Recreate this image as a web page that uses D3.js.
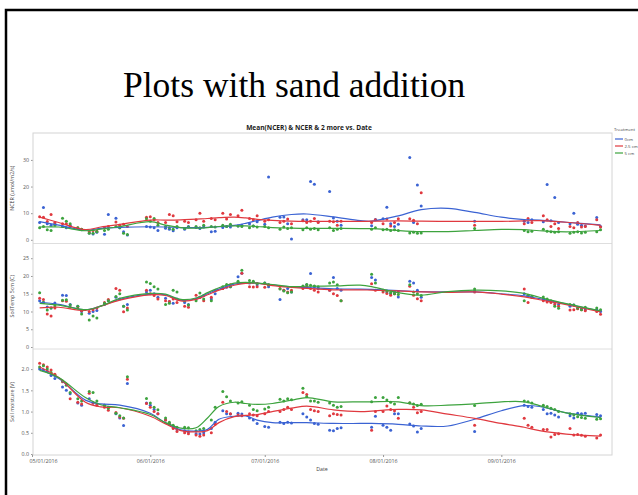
<!DOCTYPE html>
<html>
<head>
<meta charset="utf-8">
<script src="https://cdn.jsdelivr.net/npm/d3@7"></script>
<style>
body { margin: 0; background: #fff; }
svg { display: block; }
</style>
</head>
<body>
<div id="chart"></div>
<script>
// measurement days (daily means per treatment)
var dates = ["2016-05-03","2016-05-04","2016-05-05","2016-05-06","2016-05-07","2016-05-09","2016-05-10","2016-05-11","2016-05-13","2016-05-14",
  "2016-05-16","2016-05-17","2016-05-18","2016-05-20","2016-05-21","2016-05-23","2016-05-24","2016-05-25","2016-05-26",
  "2016-05-31","2016-06-01","2016-06-02","2016-06-03","2016-06-05","2016-06-06","2016-06-07","2016-06-08","2016-06-10","2016-06-11",
  "2016-06-13","2016-06-14","2016-06-15","2016-06-17","2016-06-18","2016-06-20","2016-06-21","2016-06-22","2016-06-24","2016-06-25",
  "2016-06-27","2016-06-28","2016-06-29","2016-07-01","2016-07-02","2016-07-05","2016-07-06","2016-07-07","2016-07-08","2016-07-11",
  "2016-07-12","2016-07-13","2016-07-14","2016-07-15","2016-07-18","2016-07-19","2016-07-20","2016-07-21",
  "2016-07-29","2016-07-30","2016-08-01","2016-08-02","2016-08-03","2016-08-04","2016-08-05","2016-08-08","2016-08-09","2016-08-10","2016-08-11",
  "2016-08-25",
  "2016-09-07","2016-09-08","2016-09-09","2016-09-12","2016-09-13","2016-09-14","2016-09-15","2016-09-16","2016-09-19","2016-09-20",
  "2016-09-21","2016-09-22","2016-09-23","2016-09-26","2016-09-27"];

var treatments = ["0cm", "2.5 cm", "5 cm"];

// NCER (umol/m2/s)
var ncer0 = [6.5,12.1,6.0,5.5,6.0,5.0,4.5,5.5,4.2,3.8, 2.6,2.2,2.8,2.1,9.5,8.1,4.5,3.0,1.8,
  5.0,4.8,4.5,3.5,4.3,4.0,3.4,4.5,4.0,5.0, 4.6,4.2,4.8,3.0,3.2,4.6,5.0,4.8,5.2,5.5,
  6.0,5.2,6.8,5.8,23.6,8.5,8.6,6.0,0.3,7.5, 7.5,21.9,20.9,6.8,18.1,8.2,7.0,5.5,
  5.3,7.6,7.9,12.2,6.0,5.0,5.8,30.9,6.5,20.6,12.7, 7.0,
  7.0,6.5,7.5,6.8,20.8,7.2,15.9,6.5,6.0,10.0, 5.8,5.5,5.2,8.4,5.0];
var ncer25 = [8.7,8.5,6.9,9.5,6.5,6.0,6.0,5.0,4.5,4.0, 3.0,3.5,3.2,4.5,5.0,6.7,5.5,5.8,5.0,
  8.5,8.7,7.5,6.5,6.5,9.5,9.0,6.8,7.0,6.5, 7.5,10.0,7.0,8.0,7.5,10.0,7.8,9.5,9.0,11.1,
  8.0,7.5,9.0,7.0,7.5,6.5,7.0,7.8,6.0,7.2, 6.5,7.0,8.0,6.5,7.0,6.8,5.5,7.0,
  6.5,7.5,6.0,7.8,5.2,6.5,7.9,7.9,7.3,6.0,17.7, 5.5,
  6.0,8.0,6.5,9.0,7.5,5.0,6.0,4.2,5.0,4.5, 6.5,4.8,5.0,7.5,4.8];
var ncer5 = [4.5,5.0,3.8,3.5,5.5,8.1,7.0,6.0,4.5,4.0, 2.5,2.5,3.0,3.5,4.0,5.0,4.5,2.5,2.0,
  7.9,7.0,8.0,5.5,5.0,4.5,4.0,5.0,4.2,4.8, 5.0,4.5,5.5,5.0,4.8,5.5,5.0,5.8,5.2,5.0,
  4.5,5.2,4.8,5.0,4.5,4.0,4.8,4.2,4.5,3.8, 4.5,4.0,4.2,3.8,4.5,3.5,4.0,4.2,
  4.0,4.5,3.8,4.0,3.5,3.8,3.5,2.6,2.8,2.5,2.6, 4.2,
  3.5,3.0,3.2,4.0,3.2,3.0,2.8,3.0,2.5,2.8, 3.0,2.6,2.8,3.0,3.8];

// soil temperature 5cm (C)
var temp0 = [13.0,12.6,11.3,11.0,12.4,14.6,14.5,12.0,11.5,10.0, 9.5,10.0,10.3,12.0,13.0,14.0,13.5,11.5,12.0,
  15.5,16.0,15.0,14.0,13.7,12.8,12.3,13.5,12.5,12.0, 13.5,14.0,14.5,13.5,15.0,16.5,16.8,17.0,19.8,20.8,
  18.0,18.2,17.5,18.0,17.0,13.4,16.0,16.5,15.5,17.0, 17.5,20.7,17.0,16.5,16.0,19.6,16.5,16.0,
  19.6,18.9,16.0,15.5,15.0,15.5,14.1,18.5,18.0,16.0,14.0, 15.8,
  15.0,14.5,14.0,13.5,13.0,12.8,12.5,12.0,11.5,11.8, 11.0,10.8,10.5,10.5,10.0];
var temp25 = [13.7,13.4,9.3,8.7,11.0,13.0,12.9,11.2,11.0,10.2, 10.0,10.5,11.0,12.5,13.4,16.5,16.0,9.9,11.0,
  16.0,15.0,14.5,13.5,13.0,12.8,13.5,12.5,11.5,11.2, 14.6,14.0,13.0,14.0,16.0,16.5,17.0,17.5,18.0,20.8,
  17.0,16.9,17.0,16.8,17.5,16.5,16.0,15.5,16.0,16.5, 17.0,16.5,16.0,15.5,16.0,15.0,14.5,13.0,
  17.8,16.0,15.5,15.1,14.6,15.0,15.5,17.1,14.6,13.6,13.0, 15.5,
  16.3,12.5,14.0,13.0,12.7,12.5,12.0,11.5,10.4,10.5, 10.8,10.5,10.2,10.0,9.2];
var temp5 = [15.3,12.5,10.4,11.0,11.6,13.2,13.3,11.8,11.5,9.3, 7.6,8.7,8.2,12.3,13.0,14.2,15.0,11.5,10.4,
  18.3,17.9,17.0,16.3,12.0,12.3,16.0,15.5,13.0,11.8, 13.0,15.2,13.5,13.0,16.0,17.0,17.6,17.0,18.5,21.6,
  18.7,18.5,17.9,18.0,17.5,16.3,15.8,15.3,15.5,17.2, 17.6,17.4,17.2,17.0,18.0,18.3,17.5,13.0,
  20.5,18.0,16.0,15.8,15.3,15.0,14.8,17.5,15.5,15.0,14.5, 16.3,
  13.0,14.6,14.3,14.1,13.5,13.0,11.5,10.9,12.0,11.8, 11.0,10.5,11.2,11.0,10.5];

// soil moisture (V)
var moist0 = [2.00,1.98,1.95,1.85,1.78,1.58,1.50,1.42,1.20,1.15, 1.30,1.20,1.18,1.15,1.10,0.95,0.85,0.67,1.66,
  1.20,1.15,1.05,0.95,0.80,0.72,0.65,0.58,0.55,0.52, 0.48,0.47,0.50,0.60,0.75,1.02,0.95,0.94,0.96,0.94,
  0.85,0.80,0.72,0.65,0.63,0.75,0.72,0.75,0.73,0.95, 0.87,0.80,0.72,0.70,0.56,0.55,0.60,0.62,
  0.63,0.89,0.68,0.63,0.56,0.95,0.95,0.71,0.66,0.52,0.60, 0.53,
  1.15,1.12,1.10,1.05,0.95,0.96,0.92,0.87,0.90,0.85, 0.96,0.95,0.96,0.93,0.90];
var moist25 = [2.14,2.10,2.05,1.98,1.88,1.70,1.65,1.30,1.22,1.18, 1.43,1.20,1.15,1.10,1.03,0.98,0.87,0.84,1.76,
  1.19,1.10,1.00,0.95,0.80,0.70,0.60,0.53,0.50,0.48, 0.45,0.42,0.45,0.50,0.70,1.22,1.00,0.95,0.92,0.90,
  0.95,0.92,0.90,0.95,1.00,1.00,1.05,1.10,1.05,1.45, 1.40,1.05,1.02,1.00,0.90,0.95,0.93,0.92,
  0.56,1.00,1.00,1.13,1.05,1.02,0.84,1.20,1.10,0.97,1.00, 0.68,
  0.84,0.68,0.63,0.58,0.58,0.40,0.46,0.48,0.60,0.45, 0.46,0.44,0.42,0.38,0.45];
var moist5 = [2.05,2.08,2.00,1.92,1.85,1.72,1.62,1.45,1.30,1.25, 1.47,1.45,1.25,1.15,1.08,0.96,0.90,0.85,1.82,
  1.31,1.20,1.10,1.04,0.85,0.75,0.68,0.63,0.63,0.62, 0.55,0.58,0.60,0.80,1.10,1.47,1.35,1.25,1.20,1.23,
  1.15,1.05,1.02,1.06,1.10,1.29,1.25,1.30,1.28,1.55, 1.35,1.25,1.25,1.22,1.20,1.15,1.10,1.12,
  1.23,1.33,1.33,1.27,1.22,1.18,1.33,1.21,1.18,1.14,1.17, 1.14,
  1.25,1.23,1.20,1.15,1.12,1.08,1.05,1.00,0.95,0.92, 0.88,0.86,0.84,0.82,0.83];

// smoother curves
var fitDates = ["2016-05-03","2016-05-08","2016-05-15","2016-05-19","2016-05-24","2016-06-01","2016-06-05","2016-06-09","2016-06-13","2016-06-16",
  "2016-06-19","2016-06-23","2016-06-26","2016-06-29","2016-07-03","2016-07-08","2016-07-12","2016-07-19","2016-07-26","2016-07-29",
  "2016-08-05","2016-08-11","2016-08-18","2016-08-25","2016-09-01","2016-09-07","2016-09-11","2016-09-18","2016-09-27"];
var ncerFit0 = [6.8,5.5,3.6,4.3,4.7,4.9,4.8,4.6,4.6,4.7,4.9,5.4,6.2,7.2,8.5,9.5,9.7,8.6,7.2,7.0,9.0,11.3,11.8,10.3,8.5,7.6,7.4,6.6,5.6];
var ncerFit25 = [8.5,6.5,3.8,4.8,5.8,7.4,7.4,7.5,7.8,8.0,8.3,8.5,8.2,7.7,7.3,7.0,6.9,6.9,6.9,7.0,7.1,7.0,6.9,6.9,6.9,7.1,7.2,6.6,5.4];
var ncerFit5 = [4.8,4.8,3.4,4.0,5.0,6.8,5.5,4.6,4.4,4.6,5.0,5.2,5.2,5.0,4.6,4.4,4.3,4.3,4.2,4.2,3.5,3.1,3.1,3.5,3.9,3.8,3.4,3.0,3.5];
var tempFit0 = [12.6,12.0,10.5,11.5,13.4,14.9,14.7,13.2,13.6,15.0,16.3,17.7,18.0,18.0,17.5,16.9,16.7,16.4,16.3,16.2,15.9,15.6,15.5,15.5,15.0,14.4,13.6,12.1,10.1];
var tempFit25 = [11.0,11.2,10.3,11.5,13.2,14.7,14.5,13.0,13.4,14.7,16.0,17.4,17.9,18.0,17.3,16.8,16.5,16.1,16.1,16.0,15.8,15.5,15.4,15.5,14.9,14.1,13.3,11.9,9.9];
var tempFit5 = [12.3,11.8,10.5,11.5,13.7,15.1,14.9,13.4,13.8,15.3,16.7,18.0,18.2,18.0,17.6,17.0,17.1,17.2,17.4,17.0,15.3,14.6,15.6,16.0,15.8,15.1,14.0,12.2,10.2];
var moistFit0 = [2.00,1.78,1.27,1.18,1.15,0.96,0.73,0.57,0.54,0.58,0.82,0.89,0.90,0.80,0.74,0.74,0.74,0.72,0.72,0.72,0.70,0.66,0.66,0.82,1.02,1.14,1.12,0.97,0.87];
var moistFit25 = [2.05,1.80,1.22,1.11,1.09,0.89,0.71,0.55,0.52,0.55,0.74,0.88,0.91,0.93,1.00,1.08,1.13,1.04,1.00,1.01,1.05,1.04,0.94,0.84,0.72,0.63,0.55,0.47,0.42];
var moistFit5 = [1.97,1.80,1.33,1.16,1.09,0.93,0.74,0.61,0.62,0.85,1.12,1.22,1.19,1.17,1.19,1.27,1.33,1.23,1.23,1.23,1.23,1.14,1.15,1.18,1.23,1.23,1.14,0.97,0.86];

var monthTicks = ["2016-05-01","2016-06-01","2016-07-01","2016-08-01","2016-09-01"];
var colors = ["#3b63d3", "#e0393f", "#3da33e"];

var parse = d3.timeParse("%Y-%m-%d");

var W = 638, H = 495;
var frame = {left: 33, right: 612, top: 133, bottom: 455};

var svg = d3.select("#chart").append("svg")
  .attr("width", W)
  .attr("height", H);

// slide border and title
svg.append("rect")
  .attr("x", 6).attr("y", 10)
  .attr("width", 700).attr("height", 600)
  .attr("fill", "none").attr("stroke", "#000").attr("stroke-width", 2.5);

svg.append("text")
  .attr("x", 123).attr("y", 97)
  .style("font-family", "'Liberation Serif', 'Times New Roman', serif")
  .style("font-size", "35.5px")
  .attr("fill", "#000")
  .text("Plots with sand addition");

svg.append("text")
  .attr("x", 309).attr("y", 130)
  .attr("text-anchor", "middle")
  .style("font-family", "'Open Sans', sans-serif")
  .style("font-size", "6.6px").style("font-weight", "bold")
  .attr("fill", "#222")
  .text("Mean(NCER) & NCER & 2 more vs. Date");

var x = d3.scaleTime()
  .domain([parse("2016-05-01"), parse("2016-09-30")])
  .range([32, frame.right]);

var panels = [
  {label: "NCER (umol/m2/s)", top: 133, bottom: 243.5, domain: [-1.2, 40], range: [243, 133.3],
   ticks: [0, 10, 20, 30], fmt: d3.format("d"), series: [ncer0, ncer25, ncer5], fits: [ncerFit0, ncerFit25, ncerFit5]},
  {label: "SoilTemp 5cm (C)", top: 243.5, bottom: 349, domain: [-0.5, 29], range: [348.8, 244],
   ticks: [0, 5, 10, 15, 20, 25], fmt: d3.format("d"), series: [temp0, temp25, temp5], fits: [tempFit0, tempFit25, tempFit5]},
  {label: "Soil moisture (V)", top: 349, bottom: 455, domain: [-0.03, 2.45], range: [455.3, 350],
   ticks: [0, 0.5, 1, 1.5, 2], fmt: d3.format(".1f"), series: [moist0, moist25, moist5], fits: [moistFit0, moistFit25, moistFit5]}
];

var parsedDates = dates.map(parse);
var parsedFit = fitDates.map(parse);

panels.forEach(function(p, pi) {
  var y = d3.scaleLinear().domain(p.domain).range(p.range);
  var g = svg.append("g").attr("class", "panel");

  var clipId = "clip" + pi;
  svg.append("clipPath").attr("id", clipId)
    .append("rect")
    .attr("x", frame.left).attr("y", p.top)
    .attr("width", frame.right - frame.left).attr("height", p.bottom - p.top);

  // panel separator
  if (pi > 0) {
    g.append("line")
      .attr("x1", frame.left).attr("x2", frame.right)
      .attr("y1", p.top).attr("y2", p.top)
      .attr("stroke", "#dedede").attr("stroke-width", 1);
  }

  var yAxis = d3.axisLeft(y).tickValues(p.ticks).tickFormat(p.fmt).tickSize(2).tickPadding(2);
  var ag = g.append("g")
    .attr("transform", "translate(" + frame.left + ",0)")
    .call(yAxis);
  ag.select(".domain").remove();
  ag.selectAll("line").attr("stroke", "#999");
  ag.selectAll("text")
    .attr("fill", "#555")
    .style("font-family", "'Open Sans', sans-serif")
    .style("font-size", "5.3px");

  g.append("text")
    .attr("transform", "translate(14," + ((p.top + p.bottom) / 2) + ") rotate(-90)")
    .attr("text-anchor", "middle")
    .style("font-family", "'Open Sans', sans-serif")
    .style("font-size", "5.3px")
    .attr("fill", "#444")
    .text(p.label);

  var plot = g.append("g").attr("clip-path", "url(#" + clipId + ")");

  p.series.forEach(function(vals, si) {
    var pts = vals.map(function(v, i) { return {d: parsedDates[i], v: v}; })
      .filter(function(o) { return o.v != null; });
    plot.selectAll(".pt" + si)
      .data(pts)
      .enter().append("circle")
      .attr("class", "pt" + si)
      .attr("cx", function(o) { return x(o.d); })
      .attr("cy", function(o) { return y(o.v); })
      .attr("r", 1.5)
      .attr("fill", colors[si]);
  });

  var line = d3.line()
    .x(function(o) { return x(o.d); })
    .y(function(o) { return y(o.v); })
    .curve(d3.curveCatmullRom.alpha(0.5));

  p.fits.forEach(function(vals, si) {
    var pts = vals.map(function(v, i) { return {d: parsedFit[i], v: v}; });
    plot.append("path")
      .datum(pts)
      .attr("d", line)
      .attr("fill", "none")
      .attr("stroke", colors[si])
      .attr("stroke-width", 1.2);
  });
});

// outer plot frame
svg.append("rect")
  .attr("x", frame.left).attr("y", frame.top)
  .attr("width", frame.right - frame.left).attr("height", frame.bottom - frame.top)
  .attr("fill", "none").attr("stroke", "#d4d4d4").attr("stroke-width", 1);

// date axis
var xAxis = d3.axisBottom(x)
  .tickValues(monthTicks.map(parse))
  .tickFormat(d3.timeFormat("%m/%d/%Y"))
  .tickSize(2).tickPadding(2);
var xg = svg.append("g")
  .attr("transform", "translate(0," + frame.bottom + ")")
  .call(xAxis);
xg.select(".domain").remove();
xg.selectAll("line").attr("stroke", "#999");
xg.selectAll("text")
  .attr("fill", "#555")
  .style("font-family", "'Open Sans', sans-serif")
  .style("font-size", "5.3px");
xg.select(".tick text").attr("dx", 11);

svg.append("text")
  .attr("x", 322).attr("y", 471)
  .attr("text-anchor", "middle")
  .style("font-family", "'Open Sans', sans-serif")
  .style("font-size", "5.3px")
  .attr("fill", "#444")
  .text("Date");

// legend, squeezed into the strip right of the frame
var lg = svg.append("g").attr("transform", "translate(614,131)");
lg.append("text")
  .attr("x", 0).attr("y", 0)
  .style("font-family", "'Open Sans', sans-serif")
  .style("font-size", "4.3px")
  .attr("fill", "#444")
  .text("Treatment");
treatments.forEach(function(t, i) {
  var yy = 8 + i * 7;
  lg.append("line")
    .attr("x1", 1).attr("x2", 9)
    .attr("y1", yy).attr("y2", yy)
    .attr("stroke", colors[i]).attr("stroke-width", 1.2);
  lg.append("text")
    .attr("x", 10.5).attr("y", yy + 1.6)
    .style("font-family", "'Open Sans', sans-serif")
    .style("font-size", "4.3px")
    .attr("fill", "#444")
    .text(t);
});
</script>
</body>
</html>
